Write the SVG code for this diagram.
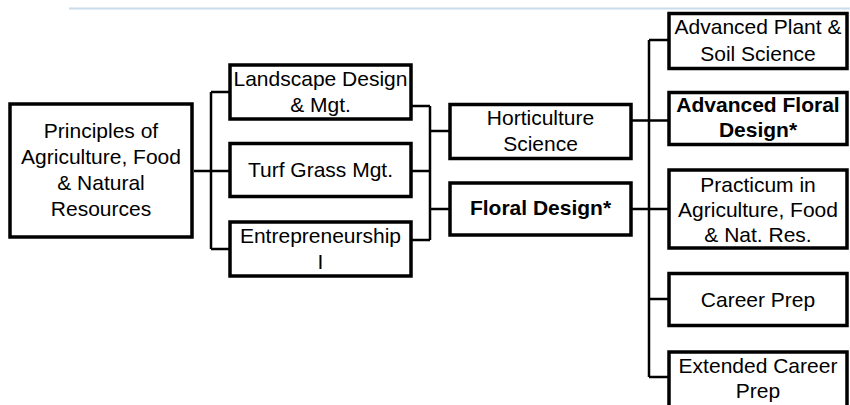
<svg xmlns="http://www.w3.org/2000/svg" width="850" height="405" viewBox="0 0 850 405">
<style>
.box{fill:#fff;stroke:#000;stroke-width:3.5}
.t{font-family:"Liberation Sans",Arial,sans-serif;font-size:21px;fill:#000;text-anchor:middle}
.b{font-weight:bold}
.c{fill:none;stroke:#000;stroke-width:2.5}
</style>
<rect width="850" height="405" fill="#fff"/>
<line x1="69" y1="8.5" x2="850" y2="8.5" stroke="#c9dcee" stroke-width="2"/>
<g id="connectors">
<path class="c" d="M194,171H230M211,92V249M211,92H230M211,249H230"/>
<path class="c" d="M411,106H430M411,171H430M411,240H430M430,106V240M430,131H450M430,209H450"/>
<path class="c" d="M631,120.5H669M649,40V377M649,40H669M631,209H669M649,299H669M649,377H669"/>
</g>
<g id="principles">
<rect class="box" x="10" y="104" width="182" height="133"/>
<text class="t" x="101" y="138">Principles of</text>
<text class="t" x="101" y="164">Agriculture, Food</text>
<text class="t" x="101" y="190">&amp; Natural</text>
<text class="t" x="101" y="216">Resources</text>
</g>
<g id="landscape">
<rect class="box" x="230" y="65" width="181" height="54"/>
<text class="t" x="320.5" y="86">Landscape Design</text>
<text class="t" x="320.5" y="112">&amp; Mgt.</text>
</g>
<g id="turf">
<rect class="box" x="230" y="143.5" width="181" height="53"/>
<text class="t" x="320.5" y="177">Turf Grass Mgt.</text>
</g>
<g id="entrepreneurship">
<rect class="box" x="230" y="222" width="181" height="54"/>
<text class="t" x="320.5" y="243">Entrepreneurship</text>
<text class="t" x="320.5" y="269">I</text>
</g>
<g id="horticulture">
<rect class="box" x="450" y="104.5" width="181" height="54"/>
<text class="t" x="540.5" y="125">Horticulture</text>
<text class="t" x="540.5" y="151">Science</text>
</g>
<g id="floral">
<rect class="box" x="450" y="183" width="181" height="52"/>
<text class="t b" x="540.5" y="215">Floral Design*</text>
</g>
<g id="adv-plant">
<rect class="box" x="669" y="13.5" width="178" height="55"/>
<text class="t" x="758" y="34">Advanced Plant &amp;</text>
<text class="t" x="758" y="61">Soil Science</text>
</g>
<g id="adv-floral">
<rect class="box" x="669" y="92.5" width="178" height="52"/>
<text class="t b" x="758" y="112">Advanced Floral</text>
<text class="t b" x="758" y="137">Design*</text>
</g>
<g id="practicum">
<rect class="box" x="669" y="170" width="178" height="78"/>
<text class="t" x="758" y="192">Practicum in</text>
<text class="t" x="758" y="217">Agriculture, Food</text>
<text class="t" x="758" y="242">&amp; Nat. Res.</text>
</g>
<g id="career-prep">
<rect class="box" x="669" y="273.5" width="178" height="52"/>
<text class="t" x="758" y="307">Career Prep</text>
</g>
<g id="extended">
<rect class="box" x="669" y="352" width="178" height="60"/>
<text class="t" x="758" y="373">Extended Career</text>
<text class="t" x="758" y="398">Prep</text>
</g>
</svg>
